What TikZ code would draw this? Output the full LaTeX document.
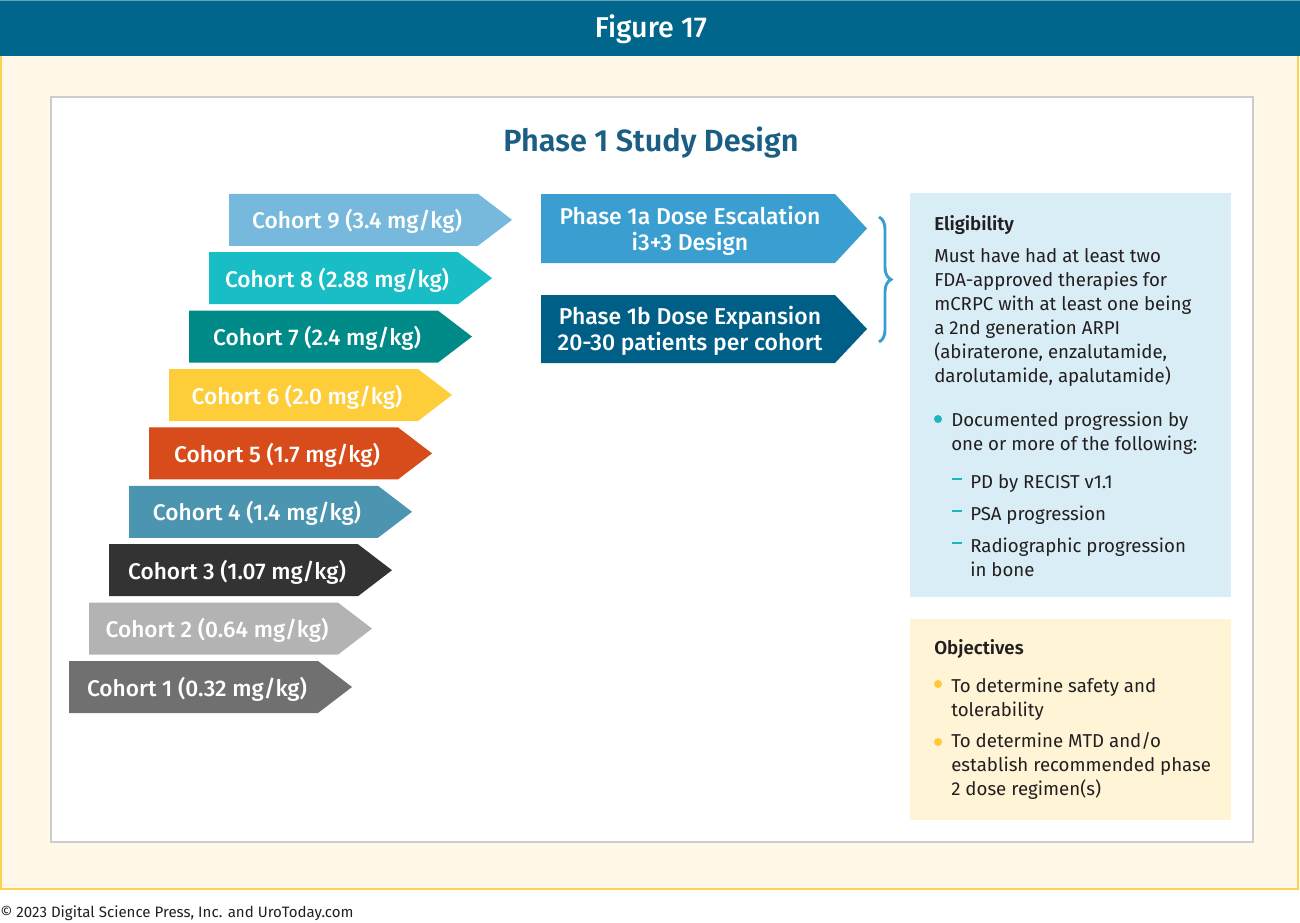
\documentclass[tikz,border=0pt]{standalone}
\usepackage{fontspec}
\setmainfont{Fira Sans}
\newfontfamily\medfont{Fira Sans Medium}
\newfontfamily\semifont{Fira Sans SemiBold}
\usetikzlibrary{decorations.pathreplacing}

\definecolor{headblue}{HTML}{00668C}
\definecolor{cream}{HTML}{FFF8E9}
\definecolor{goldline}{HTML}{FCD34D}
\definecolor{framegray}{HTML}{CCCCCC}
\definecolor{titleblue}{HTML}{1A5E84}
\definecolor{inktext}{HTML}{231F20}
\definecolor{cohortA}{HTML}{707070}
\definecolor{cohortB}{HTML}{B3B3B3}
\definecolor{cohortC}{HTML}{333333}
\definecolor{cohortD}{HTML}{4C95B1}
\definecolor{cohortE}{HTML}{D84C1C}
\definecolor{cohortF}{HTML}{FDCE3A}
\definecolor{cohortG}{HTML}{008A88}
\definecolor{cohortH}{HTML}{18BDC5}
\definecolor{cohortI}{HTML}{76B9DC}
\definecolor{phaseA}{HTML}{3A9FD0}
\definecolor{phaseB}{HTML}{005F86}
\definecolor{eligfill}{HTML}{D9EDF6}
\definecolor{objfill}{HTML}{FFF4D6}
\definecolor{tealdot}{HTML}{1CB6C3}
\definecolor{golddot}{HTML}{FDC83A}

\begin{document}
\begin{tikzpicture}[x=0.75pt,y=-0.75pt,
    cohort/.style={text=white,inner sep=0pt,font=\medfont\fontsize{17}{20}\selectfont},
    phase/.style={text=white,inner sep=0pt,align=center,font=\medfont\fontsize{17.2}{19.5}\selectfont},
    boxhead/.style={anchor=base west,inner sep=0pt,text=inktext,font=\semifont\fontsize{14}{18}\selectfont},
    boxtext/.style={anchor=base west,inner sep=0pt,text=inktext,align=left,font=\fontsize{14}{18}\selectfont}]
    \useasboundingbox (0,0) rectangle (1300,922);

    \fill[cream] (1,56) rectangle (1298,889);
    \draw[goldline,line width=1.5pt] (1,56) -- (1,889) -- (1298,889) -- (1298,56);
    \fill[headblue] (0,0) rectangle (1300,56);
    \draw[headblue!60,line width=0.75pt] (0,0.5) -- (1300,0.5);
    \node[text=white,font=\medfont\fontsize{21.5}{24}\selectfont] (figlabel) at (651,29) {Figure 17};

    \draw[framegray,fill=white,line width=1pt] (51,97) rectangle (1253,842);
    \node[text=titleblue,font=\semifont\fontsize{23}{27}\selectfont] (title) at (651,143) {Phase 1 Study Design};

    \foreach \k/\col/\txt in {1/cohortA/{Cohort 1 (0.32 mg/kg)},2/cohortB/{Cohort 2 (0.64 mg/kg)},
        3/cohortC/{Cohort 3 (1.07 mg/kg)},4/cohortD/{Cohort 4 (1.4 mg/kg)},5/cohortE/{Cohort 5 (1.7 mg/kg)},
        6/cohortF/{Cohort 6 (2.0 mg/kg)},7/cohortG/{Cohort 7 (2.4 mg/kg)},8/cohortH/{Cohort 8 (2.88 mg/kg)},
        9/cohortI/{Cohort 9 (3.4 mg/kg)}}{
        \pgfmathsetmacro{\lx}{69+20*(\k-1)}
        \pgfmathsetmacro{\ty}{661-58.4*(\k-1)}
        \fill[\col] (\lx,\ty) -- ++(249,0) -- ++(34,26) -- ++(-34,26) -- ++(-249,0) -- cycle;
        \node[cohort] (cohort\k) at (\lx+128,\ty+28) {\txt};
    }

    \fill[phaseA] (541,194) -- (835,194) -- (867,228.5) -- (835,263) -- (541,263) -- cycle;
    \node[phase] (escalation) at (690,231) {Phase 1a Dose Escalation\\i3+3 Design};
    \fill[phaseB] (541,295) -- (835,295) -- (867,329) -- (835,363) -- (541,363) -- cycle;
    \node[phase] (expansion) at (690,331) {Phase 1b Dose Expansion\\20-30 patients per cohort};

    \coordinate (bracetop) at (879,217);
    \coordinate (bracebot) at (879,342);
    \draw[phaseA,line width=2.2pt,decorate,decoration={brace,amplitude=9pt}] (bracetop) -- (bracebot);

    \fill[eligfill] (910,193) rectangle (1231,597);
    \node[boxhead] (elighead) at (934,230) {Eligibility};
    \node[boxtext] (eligtext) at (934,382) {Must have had at least two\\FDA-approved therapies for\\mCRPC with at least one being\\a 2nd generation ARPI\\(abiraterone, enzalutamide,\\darolutamide, apalutamide)};
    \fill[tealdot] (938,419) circle (3pt);
    \node[boxtext] (progress) at (951,450) {Documented progression by\\one or more of the following:};
    \foreach \y in {479,511,543}
        \draw[tealdot,line width=1.6pt] (952,\y) -- (962,\y);
    \node[boxtext] (recist) at (970,488) {PD by RECIST v1.1};
    \node[boxtext] (psa) at (970,520) {PSA progression};
    \node[boxtext] (radio) at (970,576) {Radiographic progression\\in bone};

    \fill[objfill] (910,619) rectangle (1231,820);
    \node[boxhead] (objhead) at (934,654) {Objectives};
    \fill[golddot] (938,684) circle (3pt);
    \node[boxtext] (safety) at (951,716) {To determine safety and\\tolerability};
    \fill[golddot] (938,742) circle (3pt);
    \node[boxtext] (mtd) at (951,795) {To determine MTD and/o\\establish recommended phase\\2 dose regimen(s)};

    \node[anchor=base west,inner sep=0pt,text=inktext,font=\fontsize{11.3}{13}\selectfont] (credit) at (0,917) {© 2023 Digital Science Press, Inc. and UroToday.com};
\end{tikzpicture}
\end{document}
